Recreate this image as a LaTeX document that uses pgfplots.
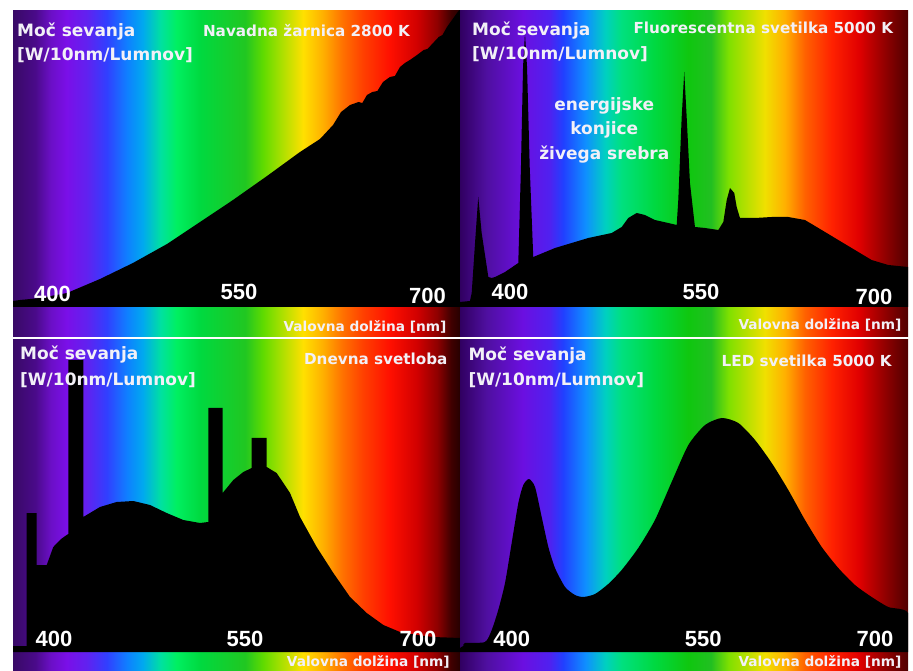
\documentclass[border=0pt]{standalone}
\usepackage{pgfplots}
\pgfplotsset{compat=1.18}
\usepackage{fontspec}
\setmainfont{DejaVu Sans}
\newfontfamily\numfont{Liberation Sans}
\definecolor{txt}{rgb}{0.95,0.94,0.97}

\pgfdeclarehorizontalshading{specA}{100bp}{rgb(0bp)=(0.22,0.04,0.40); rgb(25bp)=(0.22,0.04,0.40); rgb(27.5bp)=(0.29,0.04,0.54); rgb(29.25bp)=(0.42,0.06,0.78); rgb(31bp)=(0.48,0.06,0.91); rgb(33.25bp)=(0.38,0.13,0.94); rgb(35.5bp)=(0.19,0.25,1.0); rgb(37.75bp)=(0.06,0.5,1.0); rgb(39.5bp)=(0.0,0.66,0.94); rgb(41.5bp)=(0.0,0.88,0.63); rgb(43.3bp)=(0.0,0.94,0.38); rgb(45.9bp)=(0.0,0.85,0.25); rgb(51bp)=(0.13,0.78,0.13); rgb(53bp)=(0.38,0.86,0.0); rgb(55.2bp)=(0.69,0.88,0.0); rgb(57.45bp)=(1.0,0.88,0.0); rgb(59.65bp)=(1.0,0.69,0.0); rgb(61.9bp)=(1.0,0.44,0.0); rgb(64.15bp)=(1.0,0.25,0.0); rgb(67.15bp)=(1.0,0.06,0.0); rgb(70.2bp)=(0.82,0.0,0.0); rgb(72.45bp)=(0.56,0.0,0.0); rgb(74bp)=(0.25,0.0,0.0); rgb(75bp)=(0.15,0.0,0.0); rgb(100bp)=(0.15,0.0,0.0)}

\pgfdeclarehorizontalshading{specB}{100bp}{rgb(0bp)=(0.19,0.0,0.38); rgb(25bp)=(0.19,0.0,0.38); rgb(28bp)=(0.31,0.06,0.63); rgb(32bp)=(0.42,0.06,0.88); rgb(35bp)=(0.31,0.13,0.94); rgb(36.5bp)=(0.13,0.25,1.0); rgb(39bp)=(0.06,0.56,1.0); rgb(41.25bp)=(0.0,0.82,0.75); rgb(43bp)=(0.0,0.88,0.5); rgb(46.75bp)=(0.0,0.85,0.25); rgb(50.5bp)=(0.06,0.78,0.06); rgb(53bp)=(0.13,0.75,0.13); rgb(55bp)=(0.5,0.88,0.0); rgb(59bp)=(0.94,0.88,0.0); rgb(61.25bp)=(1.0,0.69,0.0); rgb(63.5bp)=(1.0,0.38,0.0); rgb(66.5bp)=(1.0,0.13,0.0); rgb(69.5bp)=(0.88,0.0,0.0); rgb(72.5bp)=(0.56,0.0,0.0); rgb(75bp)=(0.31,0.0,0.0); rgb(100bp)=(0.31,0.0,0.0)}

\pgfplotsset{panel/.style={scale only axis, anchor=south west, axis line style={draw=none}, xtick=\empty, ytick=\empty}}
\tikzset{
  lab/.style={text=txt, font=\fontsize{17}{20}\selectfont\bfseries, inner sep=0pt, anchor=base west},
  ttl/.style={text=txt, font=\fontsize{15.2}{18}\selectfont\bfseries, inner sep=0pt, anchor=base},
  tk/.style={text=white, font=\numfont\fontsize{22}{24}\selectfont\bfseries, inner sep=0pt, anchor=base},
  wl/.style={text=txt, font=\fontsize{13.7}{16}\selectfont\bfseries, inner sep=0pt, anchor=base},
}

\begin{document}
\begin{tikzpicture}
\useasboundingbox (0,0) rectangle (913pt,670pt);
\fill[white] (0,0) rectangle (913pt,670pt);
\clip (0,0) rectangle (913pt,670pt);

% Panel 1: incandescent
\begin{axis}[panel, at={(13pt,333pt)}, width=447pt, height=326pt, xmin=369, xmax=726, ymin=-30, ymax=296, axis background/.style={shading=specA}]
\addplot[fill=black, draw=none] coordinates {(369,0) (369,6) (374.6,7) (390.6,9) (412.1,14) (438.5,28) (464.8,44) (492,63) (518.4,85) (544.7,107) (571.9,131) (598.2,155) (614.2,168) (624.6,182) (631,195) (638.2,202) (645,205) (648,204) (651.7,212) (656,215) (660,216) (664.5,225) (670,230) (674,231) (678.1,240) (682,244) (686,247) (691.7,252) (697,257) (700,258) (704.5,264) (709,270) (712,272) (715.6,280) (723.6,294) (726,298) (726,0)} -- cycle;
\end{axis}

% Panel 2: fluorescent
\begin{axis}[panel, at={(460pt,333pt)}, width=448pt, height=326pt, xmin=356.6, xmax=724.8, ymin=-30, ymax=296, axis background/.style={shading=specB}]
\addplot[fill=black, draw=none] coordinates {(356.6,0) (356.6,5) (364.8,6) (366.2,14) (369.5,74) (371.6,110) (374.4,74) (379.9,30) (382.6,29) (385.4,30) (393.6,35) (404.5,44) (406.7,140) (408.4,240) (410,274) (411.7,240) (413.9,140) (416.8,50) (434.7,59) (462,69) (481.3,74) (489.5,80) (494.9,89) (501.8,94) (508.6,92) (516.8,87) (527.8,84) (534.7,82) (536,107) (538.8,190) (540.9,235) (542.9,190) (545.6,124) (549.7,80) (558,79) (568.9,77) (573,85) (575.8,107) (578.5,119) (582,114) (584,100) (586.7,89) (599,89) (612.8,90) (626.4,90) (640.1,87) (653.9,77) (667.5,67) (681.2,57) (694.9,47) (708.6,42) (724.8,40) (724.8,0)} -- cycle;
\end{axis}

% Panel 3: daylight
\begin{axis}[panel, at={(13pt,-10pt)}, width=447pt, height=340pt, xmin=364.5, xmax=731.9, ymin=-28, ymax=312, axis background/.style={shading=specA}]
\addplot[fill=black, draw=none] coordinates {(364.5,0) (364.5,6) (375.8,6) (375.8,139) (384,139) (384,87) (392.2,87) (397.6,105) (404,113) (408.6,117) (410,118) (410,292) (422.3,292) (422.3,135) (436,145) (449.7,150) (463.4,151) (477.1,147) (490.8,139) (504.5,132) (518.2,129) (525,130) (525,244) (536.8,244) (536.8,159) (545.6,172) (553.8,180) (560.7,184) (560.7,214) (573,214) (573,185) (581.2,179) (592.2,159) (600.4,135) (614.1,105) (627.8,79) (641.5,55) (655.2,39) (668.9,27) (682.6,20) (696.3,17) (710,15) (731.9,14) (731.9,0)} -- cycle;
\end{axis}

% Panel 4: LED
\begin{axis}[panel, at={(460pt,-10pt)}, width=448pt, height=340pt, xmin=354.4, xmax=724.6, ymin=-28, ymax=312, axis background/.style={shading=specB}]
\addplot[fill=black, draw=none, smooth, tension=0.4] coordinates {(354.4,0) (354.4,4) (357.1,6) (358.5,9) (375,10) (380.6,22) (386,42) (391.6,69) (397.1,109) (402.6,149) (406.7,167) (411.4,173) (416.4,165) (421.9,135) (427.4,105) (432.9,84) (441.2,65) (449.4,57) (456.3,55) (466,58) (476.9,68) (488,82) (501.7,104) (515.5,132) (529.3,170) (543.1,207) (556.9,227) (570.7,234) (584.4,229) (598.2,212) (612,189) (625.7,162) (639.5,132) (653.3,105) (667,84) (680.8,67) (694.6,55) (708.3,45) (724.6,39) (724.6,0)} -- cycle;
\end{axis}

% Texts panel 1
\node[lab] at (17pt,633pt) {Moč sevanja};
\node[lab] at (17pt,609pt) {[W/10nm/Lumnov]};
\node[ttl] at (306.5pt,633.3pt) {Navadna žarnica 2800 K};
\node[tk] at (52.5pt,368.3pt) {400};
\node[tk] at (239pt,370pt) {550};
\node[tk] at (427.5pt,366pt) {700};
\node[wl] at (365pt,338.3pt) {Valovna dolžina [nm]};
% Texts panel 2
\node[lab] at (472pt,634pt) {Moč sevanja};
\node[lab] at (472pt,610pt) {[W/10nm/Lumnov]};
\node[ttl] at (763.3pt,636.7pt) {Fluorescentna svetilka 5000 K};
\node[lab, anchor=base] at (604.3pt,559.3pt) {energijske};
\node[lab, anchor=base] at (604.3pt,535pt) {konjice};
\node[lab, anchor=base] at (604.3pt,510.7pt) {živega srebra};
\node[tk] at (510pt,370pt) {400};
\node[tk] at (701pt,370.7pt) {550};
\node[tk] at (874pt,365pt) {700};
\node[wl] at (820pt,340pt) {Valovna dolžina [nm]};
% Texts panel 3
\node[lab] at (20pt,310pt) {Moč sevanja};
\node[lab] at (20pt,284pt) {[W/10nm/Lumnov]};
\node[ttl] at (375.8pt,305pt) {Dnevna svetloba};
\node[tk] at (54pt,23.3pt) {400};
\node[tk] at (245pt,23.3pt) {550};
\node[tk] at (418pt,24pt) {700};
\node[wl] at (368.3pt,3.8pt) {Valovna dolžina [nm]};
% Texts panel 4
\node[lab] at (468.3pt,309.3pt) {Moč sevanja};
\node[lab] at (468.3pt,284pt) {[W/10nm/Lumnov]};
\node[ttl] at (806.7pt,303.3pt) {LED svetilka 5000 K};
\node[tk] at (511.7pt,24pt) {400};
\node[tk] at (703.3pt,24pt) {550};
\node[tk] at (875pt,24pt) {700};
\node[wl] at (820pt,3.8pt) {Valovna dolžina [nm]};
\end{tikzpicture}
\end{document}
